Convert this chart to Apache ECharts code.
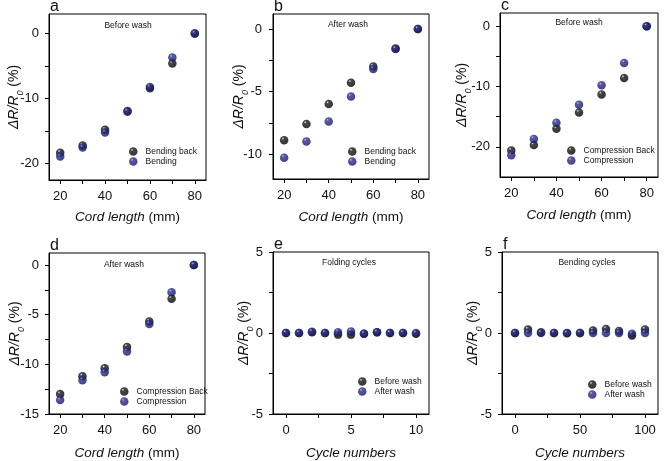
<!DOCTYPE html>
<html><head><meta charset="utf-8">
<script src="https://cdn.jsdelivr.net/npm/echarts@6/dist/echarts.min.js"></script>
<style>html,body{margin:0;padding:0;background:#fff}#c{width:670px;height:461px}</style>
</head><body><div id="c"></div>
<script>
// ---------- data ----------
const cordLength = [20, 30, 40, 50, 60, 70, 80];
const aBendingBack = [-18.3, -17.2, -14.8, -11.9, -8.4, -4.6, 0];
const aBending     = [-18.9, -17.5, -15.2, -12.0, -8.2, -3.7, 0];
const bBendingBack = [-8.9, -7.6, -6.0, -4.3, -3.0, -1.55, 0];
const bBending     = [-10.3, -9.0, -7.4, -5.4, -3.2, -1.6, 0];
const cCompBack    = [-20.6, -19.7, -17.0, -14.3, -11.3, -8.6, 0];
const cComp        = [-21.4, -18.7, -16.0, -13.0, -9.8, -6.1, 0];
const dCompBack    = [-13.0, -11.2, -10.4, -8.25, -5.7, -3.4, 0];
const dComp        = [-13.6, -11.6, -10.8, -8.7, -5.95, -2.75, 0];
const foldCycles   = [0, 1, 2, 3, 4, 5, 6, 7, 8, 9, 10];
const eBefore      = [0, 0, 0.05, 0, -0.1, -0.1, -0.05, 0.05, 0, 0, -0.05];
const eAfter       = [0, 0, 0.08, 0, 0.05, 0.1, -0.05, 0.05, 0, 0, 0];
const bendCycles   = [0, 10, 20, 30, 40, 50, 60, 70, 80, 90, 100];
const fBefore      = [0, 0.22, 0.05, 0, 0, 0, 0.15, 0.25, 0.12, -0.15, 0.22];
const fAfter       = [0, 0, 0, 0, -0.02, 0, 0, 0, 0, -0.05, 0];

const cordTicks   = [20, 30, 40, 50, 60, 70, 80];
const cordLabels  = [20, 40, 60, 80];
const foldTicks   = [0, 2.5, 5, 7.5, 10];
const foldLabels  = [0, 5, 10];
const bendTicks   = [0, 25, 50, 75, 100];
const bendLabels  = [0, 50, 100];
const aYTicks = [-20, -15, -10, -5, 0];   const aYLabels = [-20, -10, 0];
const bYTicks = [-10, -7.5, -5, -2.5, 0]; const bYLabels = [-10, -5, 0];
const cYTicks = [-20, -15, -10, -5, 0];   const cYLabels = [-20, -10, 0];
const dYTicks = [-15, -12.5, -10, -7.5, -5, -2.5, 0]; const dYLabels = [-15, -10, -5, 0];
const cycYTicks = [-5, -2.5, 0, 2.5, 5];  const cycYLabels = [-5, 0, 5];

// ---------- panels ----------
const panels = [
  {letter:'a', title:'Before wash', x:cordLength, s:[['Bending back',aBendingBack],['Bending',aBending]],
   xr:[15,85], yr:[-22.5,3], xt:cordTicks, xl:cordLabels, yt:aYTicks, yl:aYLabels, xname:'cord',
   g:{left:49, top:14, width:157, height:166}, leg:{left:129, top:147}, tt:[128,26], yng:28, xng:30, ym:10},
  {letter:'b', title:'After wash', x:cordLength, s:[['Bending back',bBendingBack],['Bending',bBending]],
   xr:[15,85], yr:[-12,1.2], xt:cordTicks, xl:cordLabels, yt:bYTicks, yl:bYLabels, xname:'cord',
   g:{left:273, top:14, width:156, height:165}, leg:{left:348, top:147}, tt:[348,25], yng:27, xng:31, ym:11},
  {letter:'c', title:'Before wash', x:cordLength, s:[['Compression Back',cCompBack],['Compression',cComp]],
   xr:[15,85], yr:[-25,2.2], xt:cordTicks, xl:cordLabels, yt:cYTicks, yl:cYLabels, xname:'cord',
   g:{left:500, top:13, width:158, height:164}, leg:{left:567, top:146}, tt:[579,23], yng:31, xng:31, ym:10},
  {letter:'d', title:'After wash', x:cordLength, s:[['Compression Back',dCompBack],['Compression',dComp]],
   xr:[15,85], yr:[-15,1.2], xt:cordTicks, xl:cordLabels, yt:dYTicks, yl:dYLabels, xname:'cord',
   g:{left:49, top:253, width:156, height:166}, leg:{left:120, top:387}, tt:[124,265], yng:27, xng:32, ym:10},
  {letter:'e', title:'Folding cycles', x:foldCycles, s:[['Before wash',eBefore],['After wash',eAfter]],
   xr:[-1,11], yr:[-5,5], xt:foldTicks, xl:foldLabels, yt:cycYTicks, yl:cycYLabels, xname:'cycle',
   g:{left:273, top:252, width:156, height:162}, leg:{left:358, top:377}, tt:[349,263], yng:22, xng:32, ym:10},
  {letter:'f', title:'Bending cycles', x:bendCycles, s:[['Before wash',fBefore],['After wash',fAfter]],
   xr:[-10,110], yr:[-5,5], xt:bendTicks, xl:bendLabels, yt:cycYTicks, yl:cycYLabels, xname:'cycle',
   g:{left:502, top:252, width:156, height:162}, leg:{left:588, top:380}, tt:[587,263], yng:22, xng:32, ym:10}
];

function sphere(light, base, dark) {
  return new echarts.graphic.RadialGradient(0.36, 0.3, 0.75, [
    {offset:0, color:light}, {offset:0.22, color:base}, {offset:1, color:dark}]);
}
const blackBall = sphere('#d8d8d8', '#1a1a1a', '#000000');
const blueBall  = sphere('#a8a8e8', '#2f2f92', '#15155a');
const FONT = 'Liberation Sans, Arial, sans-serif';

const option = {backgroundColor:'#fff', animation:false, grid:[], xAxis:[], yAxis:[], series:[], legend:[], graphic:[]};

panels.forEach((p, i) => {
  option.grid.push(Object.assign({show:true, borderColor:'#000', borderWidth:1, containLabel:false}, p.g));
  const xName = p.xname === 'cord' ? '{i|Cord length}{n| (mm)}' : '{i|Cycle numbers}';
  option.xAxis.push({
    type:'value', gridIndex:i, min:p.xr[0], max:p.xr[1],
    name:xName, nameLocation:'middle', nameGap:p.xng, nameMoveOverlap:false,
    nameTextStyle:{rich:{i:{fontFamily:FONT, fontSize:13.5, fontStyle:'italic', color:'#111'},
                         n:{fontFamily:FONT, fontSize:13.5, color:'#111'}}},
    axisLine:{show:true, onZero:false, lineStyle:{color:'#000', width:1}},
    axisTick:{show:true, inside:false, length:4, customValues:p.xt, lineStyle:{color:'#000'}},
    axisLabel:{show:true, margin:10, fontFamily:FONT, fontSize:13, color:'#111', customValues:p.xl},
    splitLine:{show:false}
  });
  option.yAxis.push({
    type:'value', gridIndex:i, min:p.yr[0], max:p.yr[1],
    name:'{i|ΔR/R}{s|0}{n| (%)}', nameLocation:'middle', nameGap:p.yng, nameRotate:90, nameMoveOverlap:false,
    nameTextStyle:{rich:{i:{fontFamily:FONT, fontSize:14, fontStyle:'italic', color:'#111'},
                         s:{fontFamily:FONT, fontSize:9, fontStyle:'italic', color:'#111', verticalAlign:'bottom', padding:[0,0,-4,0]},
                         n:{fontFamily:FONT, fontSize:14, color:'#111'}}},
    axisLine:{show:true, onZero:false, lineStyle:{color:'#000', width:1}},
    axisTick:{show:true, inside:false, length:4, customValues:p.yt, lineStyle:{color:'#000'}},
    axisLabel:{show:true, margin:p.ym, fontFamily:FONT, fontSize:13, color:'#111', customValues:p.yl},
    splitLine:{show:false}
  });
  const names = [];
  p.s.forEach(([name, vals], k) => {
    names.push(name);
    option.series.push({
      type:'scatter', name:name, xAxisIndex:i, yAxisIndex:i,
      data:p.x.map((xv, j) => [xv, vals[j]]),
      symbol:'circle', symbolSize:8.5,
      itemStyle:{color: k === 0 ? blackBall : blueBall},
      z: 2 + k
    });
  });
  option.legend.push({
    orient:'vertical', left:p.leg.left, top:p.leg.top, padding:0, itemGap:1,
    itemWidth:8.5, itemHeight:8.5, icon:'circle', data:names, selectedMode:false,
    textStyle:{fontFamily:FONT, fontSize:8.5, color:'#111', padding:[0,0,0,3]}
  });
  option.graphic.push({type:'text', left:p.g.left + 1, top:p.g.top - 15,
    style:{text:p.letter, fontFamily:FONT, fontSize:16, fill:'#111'}});
  option.graphic.push({type:'text', x:p.tt[0], y:p.tt[1],
    style:{text:p.title, fontFamily:FONT, fontSize:8.5, fill:'#111', align:'center', verticalAlign:'middle'}});
});

const chart = echarts.init(document.getElementById('c'), null, {renderer:'canvas'});
chart.setOption(option);
</script>
</body></html>
